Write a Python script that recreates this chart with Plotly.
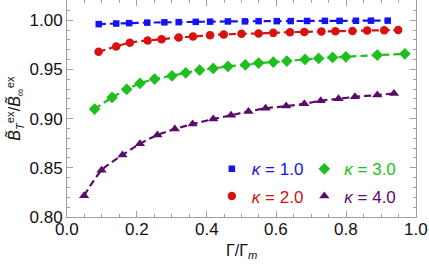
import plotly.graph_objects as go

x_k1 = [0.091, 0.141, 0.178, 0.230, 0.279, 0.320, 0.369, 0.410, 0.461, 0.510, 0.549, 0.601, 0.641, 0.688, 0.739, 0.781, 0.828, 0.871, 0.919]
y_k1 = [0.9960, 0.9966, 0.9970, 0.9975, 0.9978, 0.9980, 0.9983, 0.9985, 0.9987, 0.9988, 0.9990, 0.9990, 0.9991, 0.9992, 0.9993, 0.9993, 0.9994, 0.9995, 0.9995]

x_k2 = [0.0905, 0.141, 0.180, 0.231, 0.271, 0.320, 0.361, 0.410, 0.449, 0.500, 0.549, 0.591, 0.639, 0.680, 0.729, 0.769, 0.818, 0.860, 0.909, 0.949]
y_k2 = [0.9678, 0.9733, 0.9770, 0.9794, 0.9807, 0.9824, 0.9834, 0.9848, 0.9855, 0.9861, 0.9865, 0.9871, 0.9878, 0.9881, 0.9885, 0.9888, 0.9891, 0.9895, 0.9898, 0.9899]

x_k3 = [0.079, 0.129, 0.171, 0.209, 0.251, 0.301, 0.340, 0.380, 0.419, 0.461, 0.511, 0.549, 0.591, 0.630, 0.682, 0.721, 0.761, 0.799, 0.889, 0.968]
y_k3 = [0.9097, 0.9215, 0.9297, 0.9358, 0.9401, 0.9435, 0.9465, 0.9492, 0.9510, 0.9530, 0.9546, 0.9564, 0.9574, 0.9584, 0.9601, 0.9611, 0.9621, 0.9628, 0.9645, 0.9658]

x_k4 = [0.049, 0.099, 0.159, 0.209, 0.259, 0.309, 0.360, 0.419, 0.470, 0.520, 0.569, 0.628, 0.680, 0.727, 0.778, 0.825, 0.889, 0.937]
y_k4 = [0.8217, 0.8474, 0.8630, 0.8744, 0.8833, 0.8894, 0.8944, 0.8995, 0.9034, 0.9071, 0.9104, 0.9127, 0.9150, 0.9181, 0.9201, 0.9221, 0.9239, 0.9256]

x_range = [0.0, 1.0]
x_ticks = [0.0, 0.2, 0.4, 0.6, 0.8, 1.0]
x_ticktext = ["0.0", "0.2", "0.4", "0.6", "0.8", "1.0"]
y_ticks = [0.80, 0.85, 0.90, 0.95, 1.00]
y_ticktext = ["0.80", "0.85", "0.90", "0.95", "1.00"]

labels = ["1.0", "2.0", "3.0", "4.0"]
colors = ["#1414f0", "#d81010", "#1fbf1f", "#5a0c6c"]
symbols = ["square", "circle", "diamond", "triangle-up"]
sizes = [6.5, 8.5, 9, 9]
legends = ["legend", "legend2", "legend3", "legend4"]
xs = [x_k1, x_k2, x_k3, x_k4]
ys = [y_k1, y_k2, y_k3, y_k4]

fig = go.Figure()
for i in range(4):
    fig.add_trace(go.Scatter(
        x=xs[i], y=ys[i], mode="lines", line=dict(color=colors[i], width=2.2, dash="7px,4px", shape="spline", smoothing=0.8),
        showlegend=False, hoverinfo="skip"))
for i in range(4):
    fig.add_trace(go.Scatter(
        x=xs[i], y=ys[i], mode="markers",
        marker=dict(color=colors[i], symbol=symbols[i], size=sizes[i]),
        name=f"<span style='color:{colors[i]}'><i>κ</i> = {labels[i]}</span>",
        legend=legends[i]))

tick_font = dict(size=17, color="#111111", family="Liberation Sans, Arial")
axis_common = dict(
    showline=True, linecolor="#a0a0a0", linewidth=1, mirror="allticks",
    ticks="inside", ticklen=6, tickcolor="#a0a0a0", showgrid=False, zeroline=False,
    tickfont=tick_font, automargin=False, tickmode="array",
)

fig.update_xaxes(range=x_range, tickvals=x_ticks, ticktext=x_ticktext, showticklabels=False,
                 minor=dict(dtick=0.05, ticks="inside", ticklen=3, tickcolor="#a0a0a0"),
                 **axis_common)
fig.update_yaxes(range=[0.8, 1.0205], tickvals=y_ticks, ticktext=y_ticktext,
                 minor=dict(dtick=0.01, ticks="inside", ticklen=3, tickcolor="#a0a0a0"),
                 title=dict(text="<i>B̃</i><sub><i>T</i></sub><sup>ex</sup>/<i>B̃</i><sub>∞</sub><sup>ex</sup>",
                            font=dict(size=16, color="#111111"), standoff=4),
                 **axis_common)

# x tick labels as paper-referenced annotations (the axis hides the label at the right edge)
for v, t in zip(x_ticks, x_ticktext):
    frac = (v - x_range[0]) / (x_range[1] - x_range[0])
    fig.add_annotation(x=frac, xref="paper", y=0, yref="paper", text=t, showarrow=False,
                       xanchor="center", yanchor="top", yshift=-1, font=tick_font)
fig.add_annotation(x=0.5, xref="paper", y=0, yref="paper", text="Γ/Γ<sub><i>m</i></sub>",
                   showarrow=False, xanchor="center", yanchor="top", yshift=-23,
                   font=dict(size=16, color="#111111", family="Liberation Sans, Arial"))

leg_common = dict(bgcolor="rgba(0,0,0,0)", font=dict(size=17, family="Liberation Sans, Arial"),
                  itemwidth=30, yanchor="middle", xanchor="left")
lx1, lx2 = 0.415, 0.68
ly1, ly2 = 0.22, 0.095
fig.update_layout(
    width=429, height=267,
    margin=dict(l=67, r=13, t=0, b=50),
    paper_bgcolor="white", plot_bgcolor="white",
    font=dict(family="Liberation Sans, Arial", color="#111111"),
    legend=dict(x=lx1, y=ly1, **leg_common),
    legend2=dict(x=lx1, y=ly2, **leg_common),
    legend3=dict(x=lx2, y=ly1, **leg_common),
    legend4=dict(x=lx2, y=ly2, **leg_common),
)

fig.write_html("out.html", config={"displayModeBar": False},
               post_script="document.body.style.margin='0';document.body.style.overflow='hidden';")
